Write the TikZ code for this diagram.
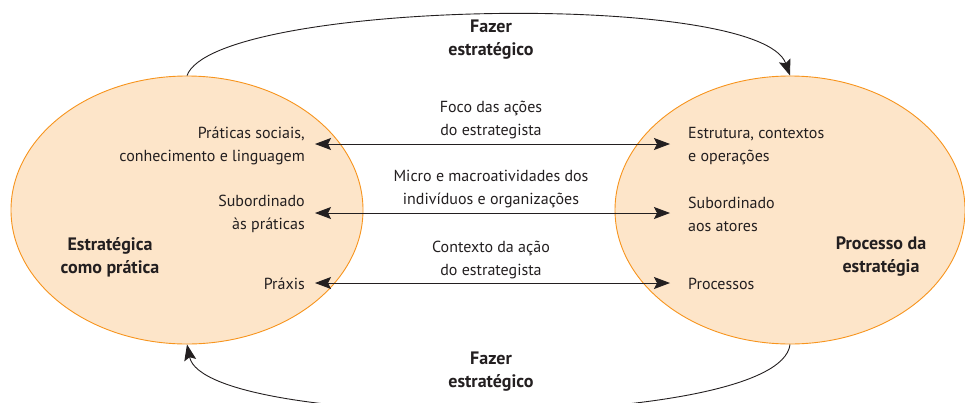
\documentclass[tikz,border=0pt]{standalone}
\usepackage{fontspec}
\setmainfont{PT Sans}
\usetikzlibrary{shapes.geometric,arrows.meta}
\definecolor{ellfill}{HTML}{FDE5C9}
\definecolor{elldraw}{HTML}{F7941D}
\definecolor{ink}{HTML}{231F20}
\begin{document}
\begin{tikzpicture}[x=1pt,y=-1pt,
  every node/.style={text=ink,font=\fontsize{16pt}{23pt}\selectfont,inner sep=0pt},
  ell/.style={ellipse,draw=elldraw,fill=ellfill,line width=0.9pt},
  lbl/.style={align=center},
  bold/.style={align=center,font=\fontsize{18pt}{23pt}\selectfont\bfseries},
  rtxt/.style={align=right,anchor=east},
  ltxt/.style={align=left,anchor=west},
  conn/.style={draw=ink,line width=0.9pt},
  tip/.style={-{Stealth[length=16pt,width=12pt,inset=3pt]}},
  dtip/.style={{Stealth[length=16pt,width=12pt,inset=3pt]}-{Stealth[length=16pt,width=12pt,inset=3pt]}}]
\useasboundingbox (0,0) rectangle (965,402);
\node[ell,minimum width=352pt,minimum height=268pt] (L) at (187,210) {};
\node[ell,minimum width=350pt,minimum height=268pt] (R) at (790,210) {};

% left texts
\node[rtxt] (pr) at (305,146) {Práticas sociais,\\conhecimento e linguagem};
\node[rtxt] (sp) at (305,214) {Subordinado\\às práticas};
\node[rtxt] (px) at (305,284) {Práxis};
\node[bold] (ecp) at (110,257) {Estratégica\\como prática};

% right texts
\node[ltxt] (es) at (688,146) {Estrutura, contextos\\e operações};
\node[ltxt] (sa) at (688,214) {Subordinado\\aos atores};
\node[ltxt] (ps) at (688,284) {Processos};
\node[bold] (pde) at (881,257) {Processo da\\estratégia};

% middle labels
\node[lbl] (m1) at (491,120) {Foco das ações\\do estrategista};
\node[lbl] (m2) at (491,189) {Micro e macroatividades dos\\indivíduos e organizações};
\node[lbl] (m3) at (491,260) {Contexto da ação\\do estrategista};
\node[bold] (ft) at (491,40) {Fazer\\estratégico};
\node[bold] (fb) at (491,372) {Fazer\\estratégico};

% arrow endpoints
\coordinate (a1l) at (315,144); \coordinate (a1r) at (670,144);
\coordinate (a2l) at (315,213); \coordinate (a2r) at (670,213);
\coordinate (a3l) at (315,283); \coordinate (a3r) at (670,283);
\draw[conn,dtip] (a1l) -- (a1r);
\draw[conn,dtip] (a2l) -- (a2r);
\draw[conn,dtip] (a3l) -- (a3r);

% curved arrows
\draw[conn,tip] (L.north) .. controls (215,0) and (760,-10) .. (R.north);
\draw[conn,tip] (R.south) .. controls (780,432) and (205,432) .. (L.south);
\end{tikzpicture}
\end{document}
